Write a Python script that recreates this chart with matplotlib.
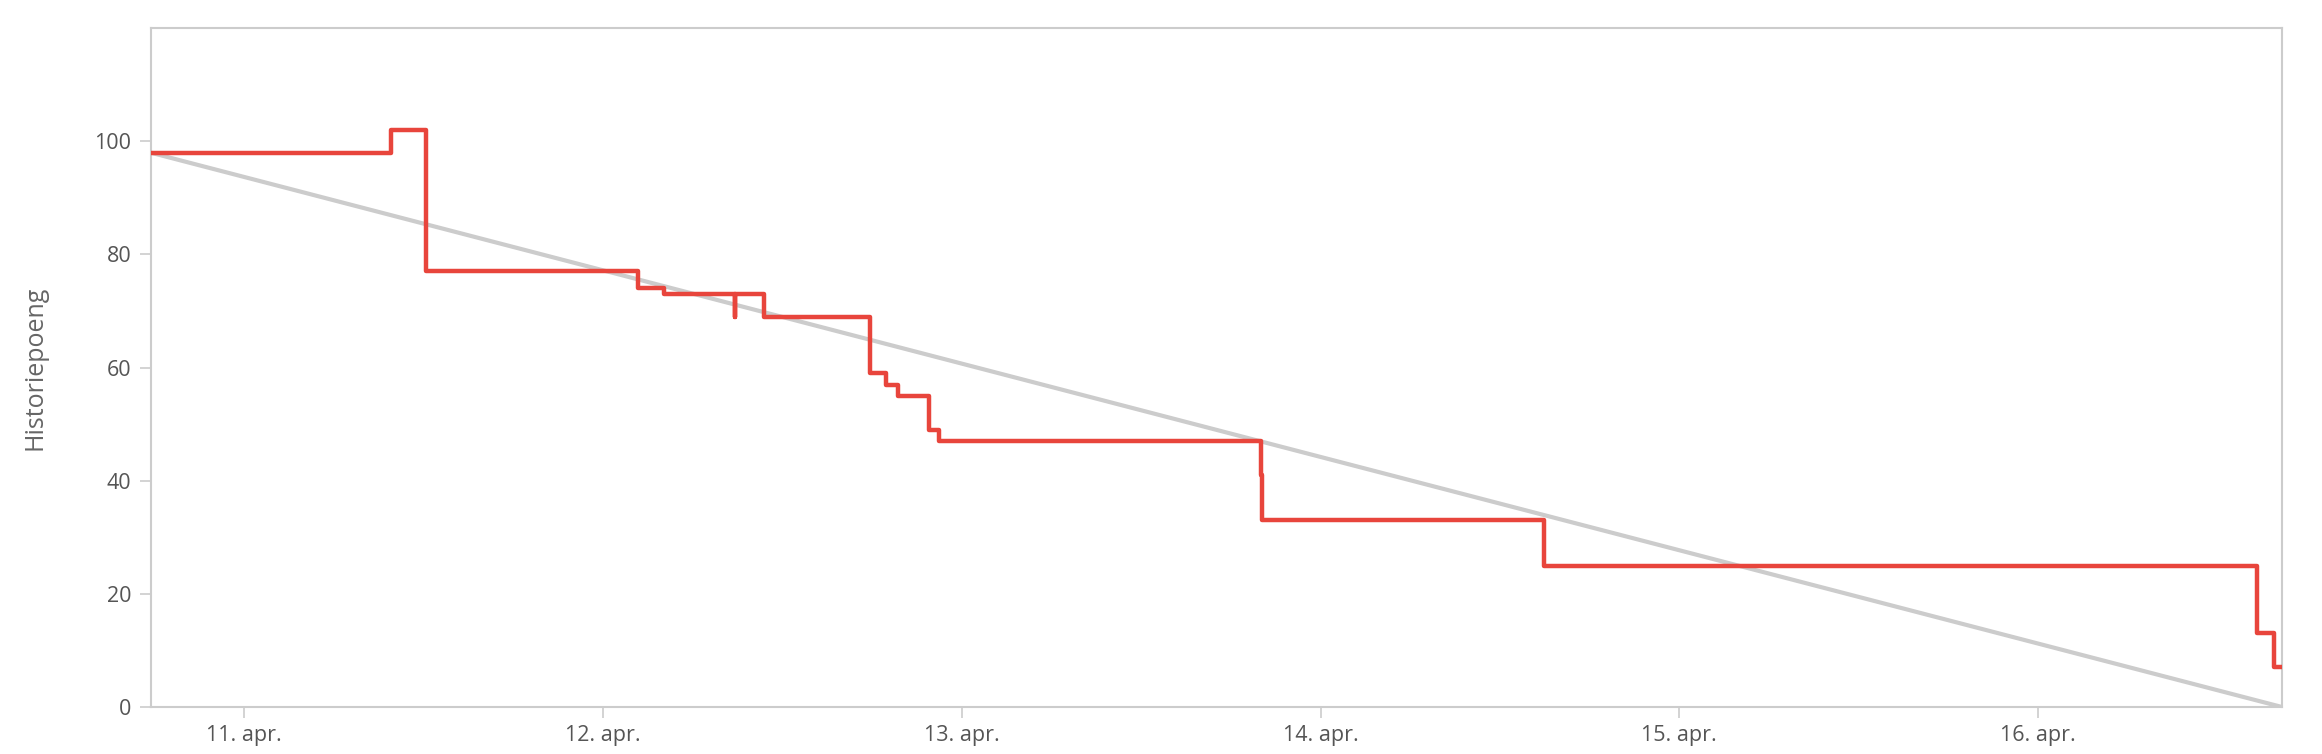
import pandas as pd
import matplotlib
matplotlib.use("Agg")
from matplotlib import pyplot as plt
import matplotlib.dates as mdates
from matplotlib.ticker import FuncFormatter

plt.rcParams['font.family'] = ['Open Sans', 'DejaVu Sans']

# remaining story points (step line, value holds until next time)
times = ["2023-04-10 17:45", "2023-04-11 09:49", "2023-04-11 12:09",
         "2023-04-12 02:20", "2023-04-12 04:06", "2023-04-12 08:50",
         "2023-04-12 08:51", "2023-04-12 10:47", "2023-04-12 17:53",
         "2023-04-12 18:56", "2023-04-12 19:44", "2023-04-12 21:50",
         "2023-04-12 22:29", "2023-04-13 20:01", "2023-04-13 20:04",
         "2023-04-14 14:56", "2023-04-16 14:40", "2023-04-16 15:48",
         "2023-04-16 16:19"]
points = [98, 102, 77, 74, 73, 69, 73, 69, 59, 57, 55, 49, 47, 41, 33,
          25, 13, 7, 7]

ideal_times = ["2023-04-10 17:45", "2023-04-16 16:19"]
ideal_points = [98, 0]

months_no = ["jan.", "feb.", "mar.", "apr.", "mai", "jun.", "jul.", "aug.",
             "sep.", "okt.", "nov.", "des."]

t = pd.to_datetime(times)
ti = pd.to_datetime(ideal_times)

fig = plt.figure(figsize=(23.22, 7.54), dpi=100)
ax = fig.add_axes([0.0649, 0.0623, 0.9179, 0.9003])

ax.plot(ti, ideal_points, color='#cccccc', lw=3, zorder=2)
ax.step(t, points, where='post', color='#e8453c', lw=3.2, zorder=3)

ax.set_xlim(t[0], t[-1])
ax.set_ylim(0, 120)
ax.set_yticks([0, 20, 40, 60, 80, 100])

ax.xaxis.set_major_locator(mdates.DayLocator())
ax.xaxis.set_major_formatter(FuncFormatter(
    lambda v, pos: "%d. %s" % (mdates.num2date(v).day,
                               months_no[mdates.num2date(v).month - 1])))

for s in ax.spines.values():
    s.set_color('#cccccc')
    s.set_linewidth(1.5)

ax.tick_params(axis='both', colors='#cccccc', length=8, width=1.2,
               labelcolor='#555555', labelsize=15.5)
ax.tick_params(axis='y', pad=6)
ax.tick_params(axis='x', pad=5)

ax.set_ylabel("Historiepoeng", fontsize=18, color='#666666', labelpad=34)

plt.savefig('out.png', dpi=100)
